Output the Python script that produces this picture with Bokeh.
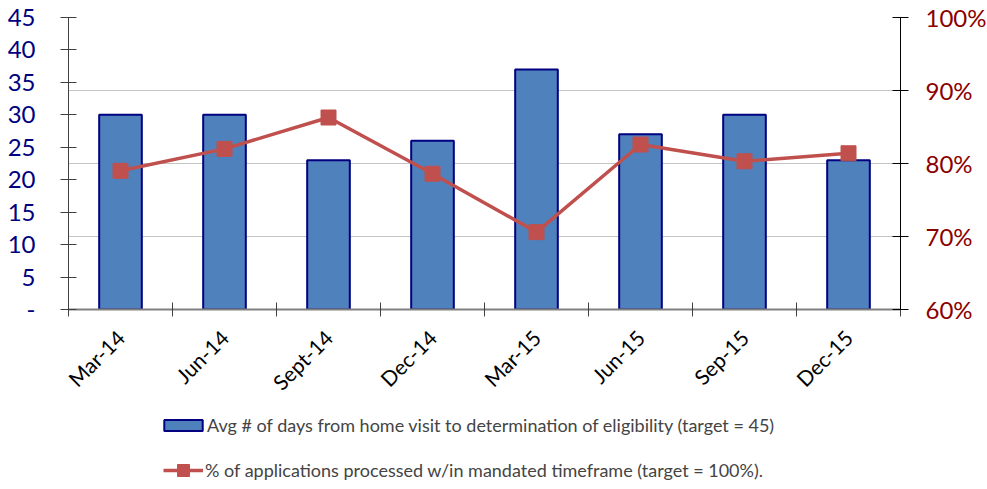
from math import pi
from bokeh.plotting import figure
from bokeh.layouts import column
from bokeh.models import (Range1d, LinearAxis, FixedTicker, NumeralTickFormatter,
                          Grid, Legend, LegendItem)
from bokeh.embed import file_html
from bokeh.resources import INLINE

categories = ["Mar-14", "Jun-14", "Sept-14", "Dec-14", "Mar-15", "Jun-15", "Sep-15", "Dec-15"]
avg_days = [30, 30, 23, 26, 37, 27, 30, 23]
pct_processed = [0.790, 0.820, 0.863, 0.786, 0.706, 0.826, 0.803, 0.814]
left_ticks = [0, 5, 10, 15, 20, 25, 30, 35, 40, 45]
right_ticks = [0.6, 0.7, 0.8, 0.9, 1.0]
bar_label = "Avg # of days from home visit to determination of eligibility (target = 45)"
line_label = "% of applications processed w/in mandated timeframe (target = 100%)."

FONT = "Lato"
BAR_FILL, BAR_LINE, LINE_COL = "#4F81BD", "#000080", "#C0504D"
n = len(categories)
x = [i + 0.5 for i in range(n)]

p = figure(frame_width=832, frame_height=292,
           x_range=Range1d(0, n), y_range=Range1d(0, 45),
           output_backend="svg", toolbar_location=None,
           min_border_left=68, min_border_right=86, min_border_top=17,
           min_border_bottom=103)
p.outline_line_color = None
p.xgrid.visible = False
p.ygrid.visible = False
p.extra_y_ranges = {"pct": Range1d(0.6, 1.0)}

p.add_layout(Grid(dimension=1, y_range_name="pct",
                  ticker=FixedTicker(ticks=[0.7, 0.8, 0.9]),
                  grid_line_color="#c4c4c4", grid_line_width=1))
p.add_layout(Grid(dimension=1, y_range_name="pct",
                  ticker=FixedTicker(ticks=[1.0]),
                  grid_line_color="#d9d9d9", grid_line_width=1))

p.vbar(x=x, top=avg_days, width=0.41, bottom=0,
       fill_color=BAR_FILL, line_color=BAR_LINE, line_width=2)
p.line(x, pct_processed, y_range_name="pct", line_color=LINE_COL, line_width=3.5)
p.scatter(x, pct_processed, y_range_name="pct", marker="square", size=15,
          fill_color=LINE_COL, line_color=LINE_COL)

ya = p.yaxis[0]
ya.ticker = FixedTicker(ticks=left_ticks)
ya.major_label_overrides = {0: "-"}
ya.major_label_text_color = "#000080"
ya.major_label_text_font = FONT
ya.major_label_text_font_size = "24px"
ya.major_label_standoff = 25
ya.axis_line_color = "#404040"
ya.major_tick_line_color = "#404040"
ya.major_tick_in = 8
ya.major_tick_out = 8
ya.minor_tick_line_color = None

ra = LinearAxis(y_range_name="pct", ticker=FixedTicker(ticks=right_ticks),
                formatter=NumeralTickFormatter(format="0%"))
ra.major_label_text_color = "#8B0000"
ra.major_label_text_font = FONT
ra.major_label_text_font_size = "24px"
ra.major_label_standoff = 17
ra.axis_line_color = "black"
ra.major_tick_line_color = "black"
ra.major_tick_in = 8
ra.major_tick_out = 8
ra.minor_tick_line_color = None
p.add_layout(ra, "right")

xa = p.xaxis[0]
xa.ticker = FixedTicker(ticks=x, minor_ticks=list(range(n + 1)))
xa.major_label_overrides = {xi: c for xi, c in zip(x, categories)}
xa.major_label_orientation = pi / 4
xa.major_label_text_font = FONT
xa.major_label_text_font_size = "21px"
xa.major_label_text_color = "black"
xa.major_tick_out = 0
xa.major_tick_in = 0
xa.major_label_standoff = 17
xa.major_tick_line_color = None
xa.minor_tick_line_color = "#404040"
xa.minor_tick_in = 7
xa.minor_tick_out = 7
xa.axis_line_color = "#808080"
xa.axis_line_width = 2

# legend strip below the chart (its frame is aligned with the chart's frame)
nan = float("nan")
lg = figure(width=987, height=77, x_range=Range1d(0, 1), y_range=Range1d(0, 1),
            output_backend="svg", toolbar_location=None,
            min_border_left=0, min_border_right=0, min_border_top=0, min_border_bottom=0)
lg.axis.visible = False
lg.grid.visible = False
lg.outline_line_color = None
bar_key = lg.vbar(x=[nan], top=[nan], width=0.4, fill_color=BAR_FILL,
                  line_color=BAR_LINE, line_width=2)
line_key = lg.line(x=[nan, nan], y=[nan, nan], line_color=LINE_COL, line_width=3.5)
mark_key = lg.scatter(x=[nan], y=[nan], marker="square", fill_color=LINE_COL,
                      line_color=LINE_COL)

leg1 = Legend(items=[LegendItem(label=bar_label, renderers=[bar_key])],
              location=(91, 53), label_text_font=FONT, label_text_font_size="18px",
              glyph_width=48, glyph_height=14, border_line_color=None,
              background_fill_alpha=0, padding=0, margin=0, label_standoff=0)
leg2 = Legend(items=[LegendItem(label=line_label, renderers=[line_key, mark_key])],
              location=(95, 4), label_text_font=FONT, label_text_font_size="18px",
              glyph_width=40, glyph_height=30, border_line_color=None,
              background_fill_alpha=0, padding=0, margin=0, label_standoff=2)
lg.add_layout(leg1, "center")
lg.add_layout(leg2, "center")

layout = column(p, lg, spacing=0)
open("out.html", "w").write(file_html(layout, INLINE))
